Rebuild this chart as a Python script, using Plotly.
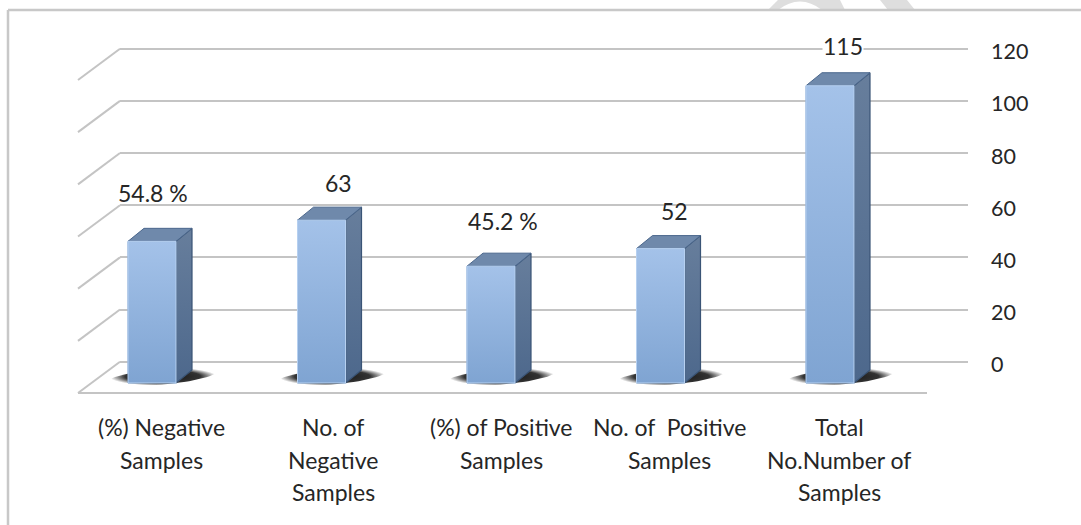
import numpy as np
import plotly.graph_objects as go

W, H = 1081, 525

# Chart content
categories = [
    ["(%) Negative", "Samples"],
    ["No. of", "Negative", "Samples"],
    ["(%) of Positive", "Samples"],
    ["No. of  Positive", "Samples"],
    ["Total", "No.Number of", "Samples"],
]
values = [54.8, 63, 45.2, 52, 115]
value_labels = ["54.8 %", "63", "45.2 %", "52", "115"]
axis_ticks = [0, 20, 40, 60, 80, 100, 120]

# Layout of the pseudo-3D box, in pixels
X0_PX = 152          # centre of the first bar
STEP_PX = 169.5      # distance between bars
Y0_PX = 383          # front-plane zero line
FRONT_PX_PER_UNIT = 2.585
WALL_Y0_PX = 361.7   # back-wall zero line
WALL_TOP_PX = 48.7   # back-wall line for the top tick
WALL_PX_PER_UNIT = (WALL_Y0_PX - WALL_TOP_PX) / 120
BAR_W = 48 / STEP_PX
DEPTH_X = 16 / STEP_PX
DEPTH_Y = 13 / FRONT_PX_PER_UNIT
PAD_UNITS = 2        # keeps the end ticks inside the wall axis so their lines are drawn

label_shift_px = [(1, 48), (16.5, 37), (12, 45), (13.5, 38), (12.5, 40)]
category_centre_shift_px = [9, 11.5, 10, 8.5, 9]

FONT = "Lato"
TEXT = "#262626"
GRID = "#c4c4c4"


def px_to_x(px):
    return (px - X0_PX) / STEP_PX


def px_to_y(py):
    return (Y0_PX - py) / FRONT_PX_PER_UNIT


def page_path(commands):
    """Build an SVG path in paper coordinates from (command, x, y, ...) tuples in pixels."""
    out = []
    for cmd in commands:
        nums = cmd[1:]
        pts = [f"{nums[k] / W:.5f},{1 - nums[k + 1] / H:.5f}" for k in range(0, len(nums), 2)]
        out.append(cmd[0] + " ".join(pts))
    return " ".join(out) + " Z"


fig = go.Figure()

# Back wall: an empty subplot that carries the horizontal lines and right-hand labels
fig.add_trace(go.Scatter(x=[0, 1], y=[0, 120], xaxis="x", yaxis="y", mode="markers",
                         marker=dict(opacity=0), hoverinfo="skip", showlegend=False))

# Slanted left wall lines and front floor edge
slant_x, slant_y = [], []
for t in axis_ticks:
    rise = t * WALL_PX_PER_UNIT
    slant_x += [px_to_x(78), px_to_x(120), None]
    slant_y += [px_to_y(393 - rise), px_to_y(WALL_Y0_PX - rise), None]
fig.add_trace(go.Scatter(x=slant_x, y=slant_y, xaxis="x2", yaxis="y2", mode="lines",
                         line=dict(color=GRID, width=2), hoverinfo="skip", showlegend=False))
fig.add_trace(go.Scatter(x=[px_to_x(78), px_to_x(927)], y=[px_to_y(393)] * 2,
                         xaxis="x2", yaxis="y2", mode="lines",
                         line=dict(color=GRID, width=2), hoverinfo="skip", showlegend=False))

# Soft floor shadow behind each bar
theta = np.linspace(0, 2 * np.pi, 60)
for i in range(len(values)):
    ex = (54 / STEP_PX) * np.cos(theta)
    ey = (8 / FRONT_PX_PER_UNIT) * np.sin(theta) + (ex * STEP_PX) * (0.09 / FRONT_PX_PER_UNIT)
    fig.add_trace(go.Scatter(
        x=i + 11 / STEP_PX + ex, y=6.5 / FRONT_PX_PER_UNIT + ey, xaxis="x2", yaxis="y2",
        mode="lines", line=dict(width=0),
        fill="toself", hoverinfo="skip", showlegend=False,
        fillgradient=dict(type="radial",
                          colorscale=[[0, "rgba(15,15,15,1)"], [0.7, "rgba(15,15,15,0.85)"],
                                      [1, "rgba(15,15,15,0)"]]),
    ))

# Side and top faces of every bar
for i, v in enumerate(values):
    xl, xr = i - BAR_W / 2, i + BAR_W / 2
    fig.add_trace(go.Scatter(
        x=[xr, xr + DEPTH_X, xr + DEPTH_X, xr, xr], y=[0, DEPTH_Y, v + DEPTH_Y, v, 0],
        xaxis="x2", yaxis="y2", mode="lines", line=dict(color="#3a5476", width=1.2),
        fill="toself", hoverinfo="skip", showlegend=False,
        fillgradient=dict(type="vertical",
                          colorscale=[[0, "#4d688c"], [1, "#677e9c"]]),
    ))
    fig.add_trace(go.Scatter(
        x=[xl, xr, xr + DEPTH_X, xl + DEPTH_X, xl], y=[v, v, v + DEPTH_Y, v + DEPTH_Y, v],
        xaxis="x2", yaxis="y2", mode="lines", line=dict(color="#4b678c", width=1),
        fill="toself", fillcolor="#6f89ab", hoverinfo="skip", showlegend=False,
    ))

# Front faces of the bars
fig.add_trace(go.Bar(
    x=list(range(len(values))), y=values, width=BAR_W, xaxis="x2", yaxis="y2",
    marker=dict(color="#91b3de", line=dict(color="#6f95c4", width=1)),
    hoverinfo="skip", showlegend=False,
))
for i, v in enumerate(values):
    xl, xr = i - BAR_W / 2, i + BAR_W / 2
    fig.add_trace(go.Scatter(
        x=[xl, xr, xr, xl, xl], y=[0, 0, v, v, 0],
        xaxis="x2", yaxis="y2", mode="lines", line=dict(color="#b6d0f0", width=1),
        fill="toself", hoverinfo="skip", showlegend=False,
        fillgradient=dict(type="vertical",
                          colorscale=[[0, "#7fa4d2"], [1, "#a4c2e9"]]),
    ))

annotations = []

# Value labels above the bars
for i, (v, lab, (dx, dy)) in enumerate(zip(values, value_labels, label_shift_px)):
    annotations.append(dict(
        x=i, y=v, xref="x2", yref="y2", text=lab, showarrow=False,
        xshift=dx, yshift=dy, xanchor="center", yanchor="middle",
        font=dict(family=FONT, size=23, color=TEXT),
        bgcolor="white" if v > 100 else None, borderpad=0,
    ))

# Category labels, one annotation per line for the wide line spacing
for i, lines in enumerate(categories):
    for j, line in enumerate(lines):
        annotations.append(dict(
            x=i, y=1 - (427 + 32.5 * j) / H, xref="x2", yref="paper", text=line,
            showarrow=False, xshift=category_centre_shift_px[i],
            xanchor="center", yanchor="middle",
            font=dict(family=FONT, size=23, color=TEXT),
        ))

# Page frame and faint background mark along the top edge
shapes = [
    dict(type="path", xref="paper", yref="paper", layer="below", line=dict(width=0),
         fillcolor="#dedede",
         path=page_path([("M", 768, 10), ("L", 778, 0), ("L", 840, 0), ("L", 845, 10),
                         ("L", 822, 10), ("Q", 800, -7, 778, 10)])),
    dict(type="path", xref="paper", yref="paper", layer="below", line=dict(width=0),
         fillcolor="#dedede",
         path=page_path([("M", 880, 0), ("L", 907, 0), ("L", 915, 10), ("L", 888, 10)])),
    dict(type="line", xref="paper", yref="paper", x0=8 / W, x1=8 / W, y0=0, y1=1 - 10 / H,
         line=dict(color="#c8c8c8", width=2.5)),
    dict(type="line", xref="paper", yref="paper", x0=8 / W, x1=1, y0=1 - 10 / H, y1=1 - 10 / H,
         line=dict(color="#c8c8c8", width=2.5)),
]

PAD_PX = PAD_UNITS * WALL_PX_PER_UNIT

fig.update_layout(
    width=W, height=H, autosize=False,
    margin=dict(l=0, r=0, t=0, b=0, autoexpand=False),
    paper_bgcolor="white", plot_bgcolor="rgba(0,0,0,0)",
    showlegend=False, barmode="overlay",
    annotations=annotations, shapes=shapes,
    xaxis=dict(domain=[120 / W, 968 / W], range=[0, 1], visible=False),
    yaxis=dict(domain=[1 - (WALL_Y0_PX + PAD_PX) / H, 1 - (WALL_TOP_PX - PAD_PX) / H],
               range=[-PAD_UNITS, 120 + PAD_UNITS],
               anchor="x", side="right", tickvals=axis_ticks, showgrid=True,
               gridcolor=GRID, gridwidth=2, zeroline=False, showline=False, ticks="",
               ticklabelstandoff=22, ticklabelshift=3,
               tickfont=dict(family=FONT, size=21.5, color=TEXT)),
    xaxis2=dict(domain=[0, 1], range=[px_to_x(0), px_to_x(W)], anchor="y2", visible=False),
    yaxis2=dict(domain=[0, 1], range=[px_to_y(H), px_to_y(0)], anchor="x2", visible=False),
)

fig.write_html("out.html", config=dict(displayModeBar=False))
